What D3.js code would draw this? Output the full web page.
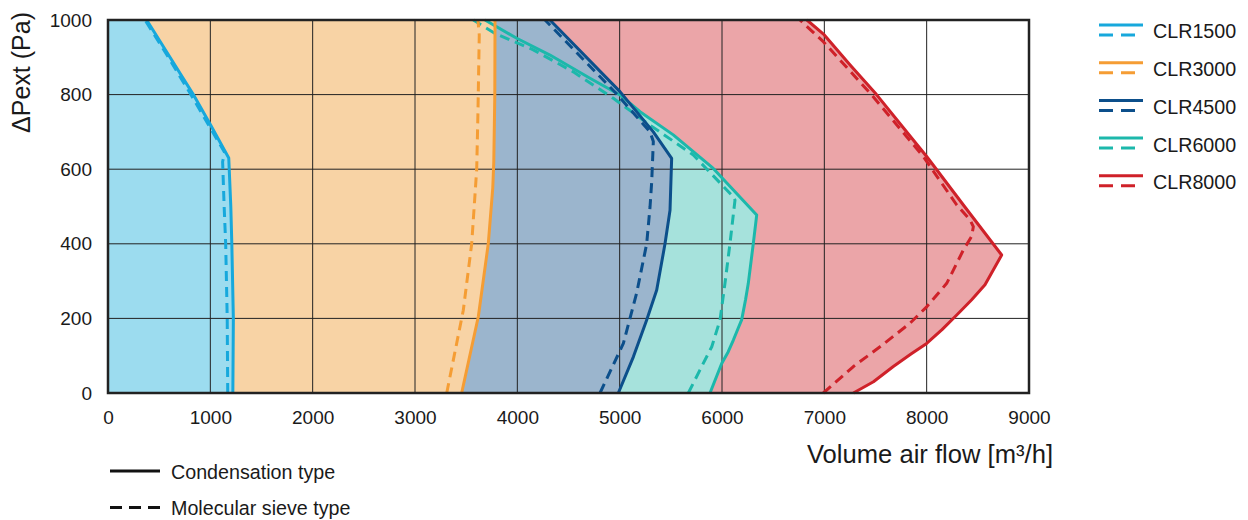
<!DOCTYPE html>
<html>
<head>
<meta charset="utf-8">
<script src="https://cdn.jsdelivr.net/npm/d3@7"></script>
<style>
  body { margin: 0; background: #fff; }
  text { font-family: "Liberation Sans", Arial, sans-serif; fill: #1a1a1a; }
</style>
</head>
<body>
<div id="chart"></div>
<script>
// models, drawn back to front
var models = ["CLR8000", "CLR6000", "CLR4500", "CLR3000", "CLR1500"];
var legendOrder = ["CLR1500", "CLR3000", "CLR4500", "CLR6000", "CLR8000"];

// [volume air flow m3/h, dPext Pa], from 0 Pa up to 1000 Pa
var clr1500Condensation = [[1220,0],[1225,200],[1210,400],[1200,500],[1180,630],[1000,720],[834,800],[606,900],[378,1000]];
var clr1500Sieve = [[1170,0],[1165,200],[1150,400],[1135,500],[1120,620],[1140,645],[980,720],[810,800],[590,900],[362,1000]];

var clr3000Condensation = [[3456,0],[3619,205],[3716,400],[3760,550],[3770,620],[3780,800],[3782,1000]];
var clr3000Sieve = [[3310,0],[3472,222],[3554,400],[3603,600],[3615,750],[3628,960],[3615,1000]];

var clr4500Condensation = [[4987,0],[5134,97],[5264,196],[5362,276],[5443,400],[5492,490],[5508,629],[5329,700],[5003,808],[4319,1000]];
var clr4500Sieve = [[4808,0],[5036,133],[5166,268],[5264,400],[5297,500],[5313,566],[5329,674],[5297,700],[4960,805],[4271,1000]];

var clr6000Condensation = [[5883,0],[5997,79],[6060,110],[6111,142],[6160,175],[6192,196],[6230,250],[6257,294],[6306,401],[6339,477],[5915,602],[5524,692],[5199,754],[5003,799],[4710,844],[4319,906],[3994,951],[3684,1000]];
var clr6000Sieve = [[5671,0],[5785,62],[5900,124],[5981,196],[6029,294],[6078,401],[6127,517],[6111,526],[5720,638],[5297,718],[4938,790],[4547,861],[4156,920],[3782,964],[3570,1000]];

var clr8000Condensation = [[7284,0],[7480,30],[7674,71],[7850,105],[8000,133],[8150,170],[8294,209],[8440,250],[8570,290],[8733,370],[8370,500],[8000,634],[7760,715],[7510,800],[7250,880],[7000,960],[6830,1000]];
var clr8000Sieve = [[6990,0],[7284,71],[7544,124],[7837,187],[8000,231],[8196,294],[8358,383],[8440,420],[8456,446],[8424,464],[8294,504],[7967,634],[7463,799],[6990,942],[6762,1000]];

var xTicks = [0, 1000, 2000, 3000, 4000, 5000, 6000, 7000, 8000, 9000];
var yTicks = [0, 200, 400, 600, 800, 1000];

var typeLabels = ["Condensation type", "Molecular sieve type"];

var lineColor = {CLR1500: "#17a8dc", CLR3000: "#f59d34", CLR4500: "#0c4f8b", CLR6000: "#1cb8ab", CLR8000: "#cf2129"};
var fillColor = {CLR1500: "#9cdcef", CLR3000: "#f8d3a5", CLR4500: "#9bb5cd", CLR6000: "#a6e2dc", CLR8000: "#eba5a8"};

var curves = {
    CLR1500: [clr1500Condensation, clr1500Sieve],
    CLR3000: [clr3000Condensation, clr3000Sieve],
    CLR4500: [clr4500Condensation, clr4500Sieve],
    CLR6000: [clr6000Condensation, clr6000Sieve],
    CLR8000: [clr8000Condensation, clr8000Sieve]
};

var margin = {top: 20, right: 219, bottom: 127, left: 108},
    width = 1248 - margin.left - margin.right,
    height = 520 - margin.top - margin.bottom;

var x = d3.scaleLinear().domain([0, 9000]).range([0, width]);
var y = d3.scaleLinear().domain([0, 1000]).range([height, 0]);

var svg = d3.select("#chart").append("svg")
    .attr("width", 1248)
    .attr("height", 520);

var g = svg.append("g")
    .attr("transform", "translate(" + margin.left + "," + margin.top + ")");

var area = d3.area()
    .y(function(d) { return y(d[1]); })
    .x0(x(0))
    .x1(function(d) { return x(d[0]); });

var line = d3.line()
    .x(function(d) { return x(d[0]); })
    .y(function(d) { return y(d[1]); });

// filled ranges, left of the condensation curve
models.forEach(function(m) {
    g.append("path")
        .datum(curves[m][0])
        .attr("fill", fillColor[m])
        .attr("d", area);
});

// grid
g.selectAll(".vgrid").data(xTicks).enter().append("line")
    .attr("x1", function(d) { return x(d); })
    .attr("x2", function(d) { return x(d); })
    .attr("y1", 0).attr("y2", height)
    .attr("stroke", "#222").attr("stroke-width", 1);
g.selectAll(".hgrid").data(yTicks).enter().append("line")
    .attr("y1", function(d) { return y(d); })
    .attr("y2", function(d) { return y(d); })
    .attr("x1", 0).attr("x2", width)
    .attr("stroke", "#222").attr("stroke-width", 1);

// curves
models.forEach(function(m) {
    g.append("path")
        .datum(curves[m][1])
        .attr("fill", "none")
        .attr("stroke", lineColor[m])
        .attr("stroke-width", 3)
        .attr("stroke-dasharray", "10,6")
        .attr("stroke-linejoin", "round")
        .attr("d", line);
    g.append("path")
        .datum(curves[m][0])
        .attr("fill", "none")
        .attr("stroke", lineColor[m])
        .attr("stroke-width", 3)
        .attr("stroke-linejoin", "round")
        .attr("d", line);
});

g.append("rect")
    .attr("width", width).attr("height", height)
    .attr("fill", "none")
    .attr("stroke", "#222")
    .attr("stroke-width", 2.5);

// axes
var xAxis = g.append("g")
    .attr("transform", "translate(0," + height + ")")
    .call(d3.axisBottom(x).tickValues(xTicks).tickSize(0).tickPadding(18).tickFormat(d3.format("d")));
var yAxis = g.append("g")
    .call(d3.axisLeft(y).tickValues(yTicks).tickSize(0).tickPadding(16).tickFormat(d3.format("d")));
[xAxis, yAxis].forEach(function(a) {
    a.select(".domain").remove();
    a.selectAll("text")
        .style("font-family", "'Liberation Sans', Arial, sans-serif")
        .style("font-size", "19px")
        .attr("fill", "#1a1a1a");
});

svg.append("text")
    .attr("transform", "translate(30,12) rotate(-90)")
    .attr("text-anchor", "end")
    .style("font-size", "25px")
    .text("ΔPext (Pa)");

svg.append("text")
    .attr("x", 1053).attr("y", 463)
    .attr("text-anchor", "end")
    .style("font-size", "25.6px")
    .text("Volume air flow [m³/h]");

// model legend
var legend = svg.append("g").attr("transform", "translate(1099,25)");
legendOrder.forEach(function(m, i) {
    var row = legend.append("g").attr("transform", "translate(0," + (i * 37.7) + ")");
    row.append("line")
        .attr("x1", 0).attr("x2", 44).attr("y1", 0).attr("y2", 0)
        .attr("stroke", lineColor[m]).attr("stroke-width", 3);
    row.append("line")
        .attr("x1", 0).attr("x2", 42).attr("y1", 10).attr("y2", 10)
        .attr("stroke", lineColor[m]).attr("stroke-width", 3)
        .attr("stroke-dasharray", "14,8");
    row.append("text")
        .attr("x", 54).attr("y", 6.5)
        .attr("dy", "0.35em")
        .style("font-size", "19.7px")
        .text(m);
});

// type legend
var typeLegend = svg.append("g").attr("transform", "translate(110,471)");
typeLabels.forEach(function(t, i) {
    var row = typeLegend.append("g").attr("transform", "translate(0," + (i * 36.5) + ")");
    row.append("line")
        .attr("x1", 0).attr("x2", 50).attr("y1", 0).attr("y2", 0)
        .attr("stroke", "#111").attr("stroke-width", 3)
        .attr("stroke-dasharray", i ? "12,7" : null);
    row.append("text")
        .attr("x", 61).attr("y", 1)
        .attr("dy", "0.35em")
        .style("font-size", "19.7px")
        .text(t);
});
</script>
</body>
</html>
